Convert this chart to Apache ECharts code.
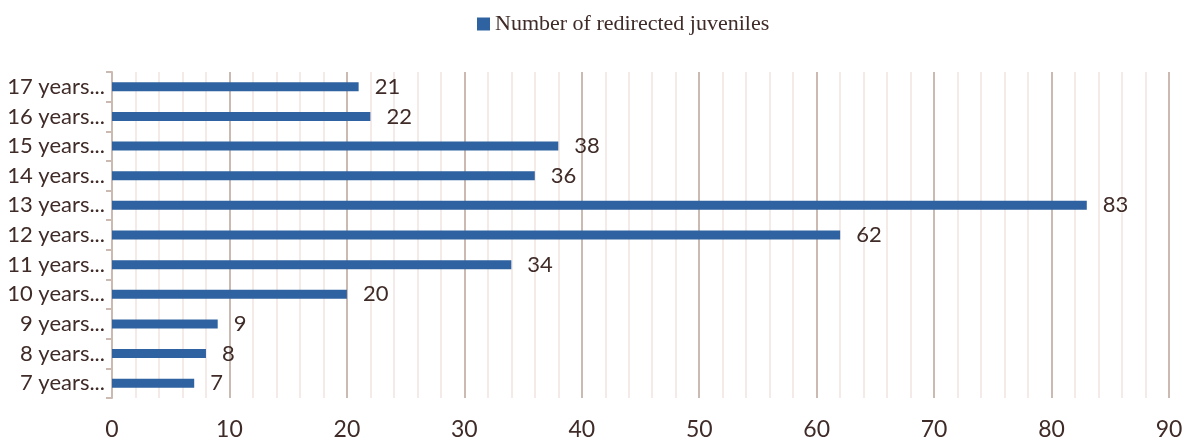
<!DOCTYPE html>
<html>
<head>
    <meta charset="utf-8">
    <title>Redirected juveniles</title>
    <style>
        html, body { margin: 0; padding: 0; background: #fff; }
        #chart { width: 1189px; height: 444px; }
    </style>
</head>
<body>
    <div id="chart"></div>
    <script src="https://cdn.jsdelivr.net/npm/echarts@6/dist/echarts.min.js"></script>
    <script>
        // 数据
        var categories = ['7 years...', '8 years...', '9 years...', '10 years...', '11 years...', '12 years...',
            '13 years...', '14 years...', '15 years...', '16 years...', '17 years...'];
        var values = [7, 8, 9, 20, 34, 62, 83, 36, 38, 22, 21];
        var seriesName = 'Number of redirected juveniles';

        var textColor = '#3f2b27';
        var chart = echarts.init(document.getElementById('chart'));

        chart.setOption({
            animation: false,
            legend: {
                top: 8,
                left: 472,
                itemWidth: 13,
                itemHeight: 13,
                itemGap: 6,
                textStyle: {
                    fontFamily: 'Liberation Serif',
                    fontSize: 22,
                    color: textColor
                },
                data: [{ name: seriesName, icon: 'rect' }]
            },
            grid: {
                left: 112,
                right: 20,
                top: 72,
                height: 326,
                containLabel: false
            },
            xAxis: {
                type: 'value',
                min: 0,
                max: 90,
                interval: 10,
                axisLine: { show: false },
                axisTick: { show: false },
                axisLabel: {
                    margin: 20,
                    fontFamily: 'Lato',
                    fontSize: 23,
                    color: textColor
                },
                splitLine: { lineStyle: { color: '#cbbab2', width: 2 } },
                minorTick: { show: false, splitNumber: 5 },
                minorSplitLine: { show: true, lineStyle: { color: '#f1e4e0', width: 1.5 } }
            },
            yAxis: {
                type: 'category',
                data: categories,
                axisLine: { lineStyle: { color: '#cbbab2', width: 2 } },
                axisTick: { show: true, length: 6, lineStyle: { color: '#cbbab2', width: 2 } },
                axisLabel: {
                    margin: 7,
                    fontFamily: 'Lato',
                    fontSize: 22,
                    color: textColor
                }
            },
            series: [{
                name: seriesName,
                type: 'bar',
                data: values,
                barWidth: 9,
                itemStyle: { color: '#2e62a1' },
                label: {
                    show: true,
                    position: 'right',
                    distance: 16,
                    fontFamily: 'Lato',
                    fontSize: 22,
                    color: textColor
                }
            }]
        });
    </script>
</body>
</html>
